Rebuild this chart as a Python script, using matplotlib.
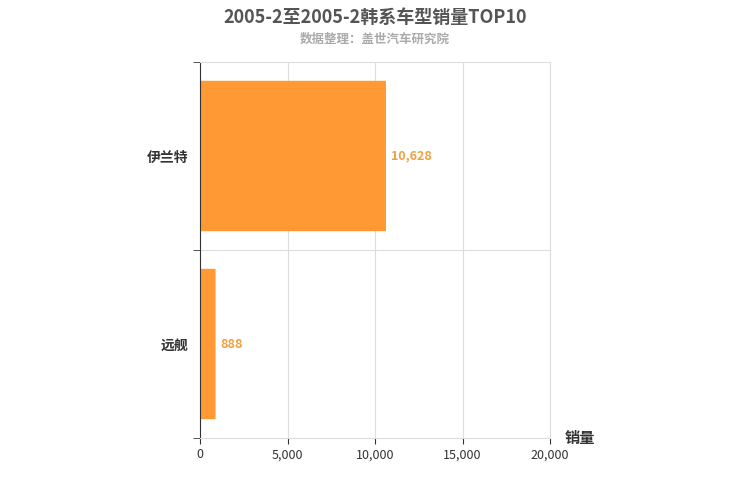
import matplotlib.pyplot as plt
from matplotlib.patches import FancyBboxPatch

plt.rcParams['font.family'] = ['Noto Sans CJK SC', 'DejaVu Sans']

models = ['伊兰特', '远舰']
sales = [10628, 888]
xticks = [0, 5000, 10000, 15000, 20000]

fig = plt.figure(figsize=(7.5, 5), dpi=100)
ax = fig.add_axes([200/750, 62/500, 350/750, 376/500])
ax.set_xlim(0, 20000)
ax.set_ylim(0, 2)
ax.set_xticks(xticks)
ax.set_xticklabels([f'{v:,}' for v in xticks], fontsize=9, color='#333333')
ax.set_yticks([0.5, 1.5])
ax.set_yticklabels(models[::-1], fontsize=10, fontweight='bold', color='#333333')
ax.grid(axis='x', color='#dddddd', lw=0.8)
ax.axhline(1, color='#dddddd', lw=0.8)
ax.set_axisbelow(True)
for s in ['top', 'right', 'bottom']:
    ax.spines[s].set_color('#dddddd')
ax.spines['left'].set_color('#333333')
ax.tick_params(axis='y', length=5, color='#333333')
ax.tick_params(axis='x', length=4, color='#333333')
ax.set_yticks([0, 1, 2], minor=True)
ax.tick_params(axis='y', which='minor', length=5, color='#333333')
ax.tick_params(axis='y', which='major', length=0, pad=8)

for i, (m, v) in enumerate(zip(models, sales)):
    y = 1.5 - i
    h = 0.8
    ax.add_patch(FancyBboxPatch((0, y - h/2), v, h,
                                boxstyle='round,pad=0,rounding_size=0.05',
                                mutation_aspect=1/ (20000/350*376/2) * 1 if False else 1,
                                fc='#ff9933', ec='none'))
    ax.text(v + 300, y, f'{v:,}', va='center', fontsize=9, color='#f0a040', fontweight='bold')

fig.text(0.5, 0.965, '2005-2至2005-2韩系车型销量TOP10', ha='center', va='center',
         fontsize=13, fontweight='bold', color='#555555')
fig.text(0.5, 0.922, '数据整理：盖世汽车研究院', ha='center', va='center',
         fontsize=9, fontweight='bold', color='#aaaaaa')
fig.text(565/750, 1 - 438/500, '销量', fontsize=11, fontweight='bold', color='#333333', va='center')
fig.savefig('out.png')
